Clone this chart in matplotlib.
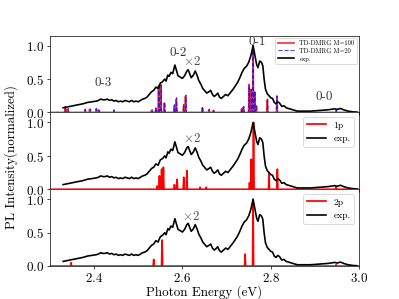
import matplotlib
matplotlib.use('Agg')
import matplotlib.pyplot as plt

plt.rcParams['font.family'] = 'serif'
plt.rcParams['font.serif'] = ['cmr10']
plt.rcParams['mathtext.fontset'] = 'cm'
plt.rcParams['axes.formatter.use_mathtext'] = True

# experimental spectrum (normalized, low energy part x2)
exp_e = [2.330, 2.345, 2.360, 2.375, 2.385, 2.395, 2.405, 2.410, 2.415, 2.420,
         2.425, 2.430, 2.435, 2.440, 2.445, 2.450, 2.455, 2.460, 2.465, 2.470,
         2.475, 2.480, 2.485, 2.490, 2.495, 2.500, 2.505, 2.510, 2.515, 2.520,
         2.525, 2.530, 2.535, 2.540, 2.545, 2.550, 2.555, 2.560, 2.563, 2.567,
         2.570, 2.574, 2.578, 2.583, 2.587, 2.590, 2.595, 2.600, 2.605, 2.610,
         2.613, 2.617, 2.620, 2.625, 2.629, 2.633, 2.637, 2.642, 2.646, 2.650,
         2.655, 2.660, 2.664, 2.668, 2.672, 2.676, 2.680, 2.684, 2.688, 2.693,
         2.698, 2.703, 2.709, 2.715, 2.720, 2.725, 2.730, 2.735, 2.740, 2.745,
         2.750, 2.755, 2.760, 2.764, 2.768, 2.771, 2.775, 2.779, 2.782, 2.785,
         2.788, 2.792, 2.796, 2.800, 2.804, 2.808, 2.812, 2.816, 2.820, 2.825,
         2.830, 2.835, 2.840, 2.845, 2.850, 2.855, 2.860, 2.870, 2.880, 2.890,
         2.900, 2.910, 2.920, 2.930, 2.940, 2.945, 2.950, 2.958, 2.965, 2.975,
         2.985, 2.995]
exp_i = [0.07, 0.09, 0.11, 0.13, 0.15, 0.16, 0.17, 0.18, 0.20, 0.19,
         0.19, 0.20, 0.18, 0.19, 0.17, 0.18, 0.16, 0.17, 0.16, 0.18,
         0.17, 0.16, 0.18, 0.16, 0.17, 0.16, 0.18, 0.20, 0.21, 0.23,
         0.27, 0.31, 0.33, 0.38, 0.36, 0.44, 0.46, 0.50, 0.47, 0.56,
         0.54, 0.60, 0.58, 0.71, 0.62, 0.55, 0.53, 0.51, 0.55, 0.62,
         0.64, 0.57, 0.52, 0.56, 0.62, 0.56, 0.48, 0.42, 0.36, 0.33,
         0.29, 0.31, 0.33, 0.27, 0.24, 0.26, 0.29, 0.23, 0.21, 0.24,
         0.27, 0.25, 0.30, 0.35, 0.40, 0.45, 0.52, 0.60, 0.66, 0.69,
         0.75, 0.85, 1.00, 0.86, 0.72, 0.67, 0.77, 0.75, 0.70, 0.50,
         0.35, 0.28, 0.25, 0.22, 0.21, 0.15, 0.13, 0.16, 0.14, 0.09,
         0.10, 0.07, 0.06, 0.05, 0.04, 0.03, 0.02, 0.02, 0.02, 0.02,
         0.025, 0.03, 0.035, 0.04, 0.05, 0.055, 0.045, 0.06, 0.04, 0.02,
         0.01, 0.005]

# TD-DMRG stick spectra
m100_e = [2.335, 2.340, 2.380, 2.390, 2.405, 2.410, 2.445, 2.530, 2.540, 2.546,
          2.551, 2.559, 2.582, 2.586, 2.603, 2.607, 2.645, 2.660, 2.670, 2.734,
          2.738, 2.751, 2.755, 2.760, 2.764, 2.767, 2.792, 2.814, 2.948]
m100_i = [0.08, 0.05, 0.04, 0.05, 0.05, 0.04, 0.03, 0.03, 0.06, 0.40,
          0.42, 0.14, 0.10, 0.20, 0.10, 0.24, 0.07, 0.04, 0.03, 0.05,
          0.08, 0.42, 0.34, 1.00, 0.30, 0.10, 0.19, 0.24, 0.03]
m20_e = [2.335, 2.342, 2.380, 2.392, 2.405, 2.412, 2.445, 2.532, 2.540, 2.547,
         2.552, 2.560, 2.582, 2.587, 2.603, 2.608, 2.646, 2.661, 2.671, 2.735,
         2.739, 2.751, 2.756, 2.760, 2.764, 2.768, 2.793, 2.814, 2.949]
m20_i = [0.09, 0.06, 0.05, 0.05, 0.06, 0.05, 0.04, 0.04, 0.07, 0.42,
         0.40, 0.15, 0.12, 0.22, 0.12, 0.26, 0.08, 0.05, 0.04, 0.06,
         0.09, 0.40, 0.35, 0.98, 0.32, 0.11, 0.20, 0.25, 0.04]

p1_e = [2.543, 2.548, 2.553, 2.557, 2.582, 2.588, 2.603, 2.610, 2.640, 2.654,
        2.752, 2.756, 2.761, 2.796, 2.815, 2.948]
p1_i = [0.05, 0.20, 0.30, 0.33, 0.07, 0.15, 0.18, 0.28, 0.03, 0.03,
        0.10, 0.45, 1.00, 0.25, 0.30, 0.04]

p2_e = [2.348, 2.535, 2.554, 2.742, 2.760, 2.948]
p2_i = [0.05, 0.10, 0.39, 0.18, 1.00, 0.02]


def sticks(e, h, d=0.0012):
    xs = [2.30]
    ys = [0.0]
    for ei, hi in sorted(zip(e, h)):
        xs += [ei - d, ei, ei + d]
        ys += [0.0, hi, 0.0]
    xs.append(3.0)
    ys.append(0.0)
    return xs, ys


fig, axes = plt.subplots(3, 1, sharex=True, figsize=(6.4, 4.8), dpi=399 / 6.4)
fig.subplots_adjust(hspace=0)

FS = 15
ax = axes[0]
x, y = sticks(m100_e, m100_i)
ax.plot(x, y, color='red', lw=2.0, alpha=0.8, label='TD-DMRG M=100')
x, y = sticks(m20_e, m20_i)
ax.plot(x, y, color='blue', lw=1.3, ls='--', alpha=0.7, label='TD-DMRG M=20')
ax.plot(exp_e, exp_i, color='black', lw=1.9, label='exp.')
ax.legend(loc='upper right', fontsize=7.5, handlelength=2.5, borderaxespad=0.3,
          labelspacing=0.3)
ax.text(2.42, 0.44, '0-3', fontsize=FS, ha='center', va='center', color='0.2')
ax.text(2.59, 0.90, '0-2', fontsize=FS, ha='center', va='center', color='0.2')
ax.text(2.622, 0.76, r'$\times$2', fontsize=FS, ha='center', va='center', color='0.3')
ax.text(2.77, 1.06, '0-1', fontsize=FS, ha='center', va='center', color='0.2')
ax.text(2.92, 0.24, '0-0', fontsize=FS, ha='center', va='center', color='0.2')

ax = axes[1]
x, y = sticks(p1_e, p1_i)
ax.plot(x, y, color='red', lw=2.0, label='1p')
ax.plot(exp_e, exp_i, color='black', lw=1.9, label='exp.')
ax.legend(loc='upper right', fontsize=11, handlelength=2.0)
ax.text(2.622, 0.76, r'$\times$2', fontsize=FS, ha='center', va='center', color='0.3')

ax = axes[2]
x, y = sticks(p2_e, p2_i)
ax.plot(x, y, color='red', lw=2.0, label='2p')
ax.plot(exp_e, exp_i, color='black', lw=1.9, label='exp.')
ax.legend(loc='upper right', fontsize=11, handlelength=2.0)
ax.text(2.62, 0.74, r'$\times$2', fontsize=FS, ha='center', va='center', color='0.3')

for ax in axes:
    ax.set_xlim(2.3, 3.0)
    ax.set_ylim(0, 1.15)
    ax.set_yticks([0.0, 0.5, 1.0])
    ax.tick_params(labelsize=FS)
axes[2].set_xticks([2.4, 2.6, 2.8, 3.0])
axes[2].set_xlabel('Photon Energy (eV)', fontsize=FS)
axes[2].xaxis.set_label_coords(0.5, -0.24)
axes[1].set_ylabel('PL Intensity(normalized)', fontsize=FS)
axes[1].yaxis.set_label_coords(-0.102, 0.42)

plt.savefig('out.png')
